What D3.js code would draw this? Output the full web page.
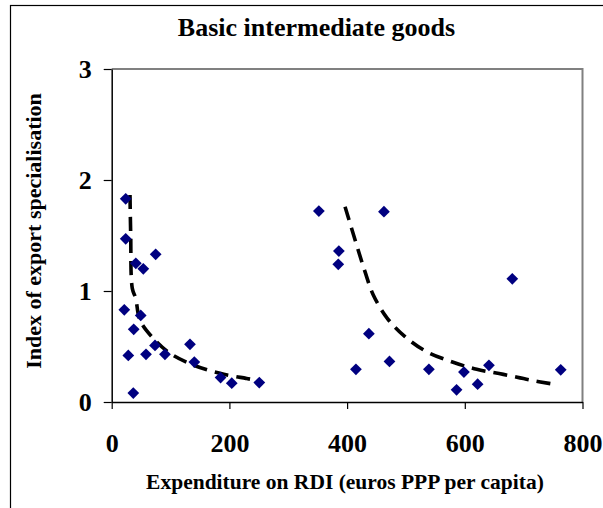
<!DOCTYPE html>
<html><head><meta charset="utf-8">
<script src="https://cdn.jsdelivr.net/npm/d3@7"></script>
<style>body{margin:0;background:#fff;}svg{display:block;}</style>
</head><body>
<svg id="c" width="603" height="508"></svg>
<script>
const title = "Basic intermediate goods";
const xTitle = "Expenditure on RDI (euros PPP per capita)";
const yTitle = "Index of export specialisation";
const xTicks = [0, 200, 400, 600, 800];
const yTicks = [0, 1, 2, 3];
// scatter points: RDI expenditure, export specialisation index
const rdi = [23.8, 23.8, 74.7, 41, 53.7, 21.4, 49.3, 37.4, 73.6, 133, 28.2, 58.3, 90.5, 140.4, 185, 204, 250.8, 36.7,
             352, 462.6, 386, 385, 680.7, 437, 415, 472, 539, 598.5, 641, 586, 621.8, 763];
const idx = [1.83, 1.47, 1.33, 1.25, 1.20, 0.83, 0.78, 0.655, 0.51, 0.52, 0.42, 0.43, 0.43, 0.36, 0.22, 0.17, 0.175, 0.08,
             1.72, 1.715, 1.36, 1.24, 1.11, 0.615, 0.295, 0.365, 0.295, 0.27, 0.33, 0.11, 0.16, 0.29];
// trend lines
const trend1X = [31.1, 32.3, 35, 40.8, 48, 68, 99, 138.7, 184, 228, 236];
const trend1Y = [1.865, 1.505, 1.024, 0.934, 0.739, 0.589, 0.439, 0.333, 0.258, 0.213, 0.205];
const trend2X = [396.5, 416.2, 430.4, 444.5, 468.3, 498.4, 535.2, 577.7, 620.2, 665.5, 710.8, 749.4];
const trend2Y = [1.759, 1.414, 1.174, 0.964, 0.754, 0.589, 0.453, 0.363, 0.294, 0.249, 0.198, 0.162];

const svg = d3.select("#c");
const font = "'Liberation Serif','Times New Roman',serif";
const L = 111.7, R = 582.5, T = 69, B = 402;
const x = d3.scaleLinear().domain([0, 800]).range([L, R]);
const y = d3.scaleLinear().domain([0, 3]).range([B, T]);

// outer chart border
svg.append("rect").attr("x", 10.5).attr("y", 5.5).attr("width", 700).attr("height", 600)
  .attr("fill", "none").attr("stroke", "#000").attr("stroke-width", 1.2);

// plot area border (gray top/right)
svg.append("path").attr("d", `M${L},${T}H${R}V${B}`).attr("fill", "none")
  .attr("stroke", "#808080").attr("stroke-width", 2);

const xAxis = svg.append("g").attr("transform", `translate(0,${B})`)
  .call(d3.axisBottom(x).tickValues(xTicks).tickSize(7).tickSizeOuter(0).tickPadding(4).tickFormat(d3.format("d")));
const yAxis = svg.append("g").attr("transform", `translate(${L},0)`)
  .call(d3.axisLeft(y).tickValues(yTicks).tickSize(8).tickSizeOuter(0).tickPadding(12).tickFormat(d3.format("d")));
[xAxis, yAxis].forEach(g => {
  g.select(".domain").attr("stroke", "#000").attr("stroke-width", 1.5);
  g.selectAll(".tick line").attr("stroke", "#000").attr("stroke-width", 1.2);
  g.selectAll("text").attr("font-family", font).attr("font-weight", "bold").attr("font-size", 26).attr("fill", "#000");
});
xAxis.selectAll("text").attr("dy", null).attr("y", 49.5);
yAxis.selectAll("text").attr("dy", null).attr("y", 8.5);

// trend lines
const line = d3.line().x(d => x(d[0])).y(d => y(d[1])).curve(d3.curveCatmullRom);
[[trend1X, trend1Y], [trend2X, trend2Y]].forEach(([xs, ys]) => {
  svg.append("path").datum(xs.map((v, i) => [v, ys[i]])).attr("d", line)
    .attr("fill", "none").attr("stroke", "#000").attr("stroke-width", 3.6)
    .attr("stroke-dasharray", "14,8");
});

// diamonds
const sym = d3.symbol().type(d3.symbolDiamond2).size(88);
svg.append("g").selectAll("path").data(rdi.map((v, i) => [v, idx[i]])).join("path")
  .attr("d", sym).attr("transform", d => `translate(${x(d[0])},${y(d[1])})`)
  .attr("fill", "#000080");

// titles
svg.append("text").attr("x", 316.5).attr("y", 36).attr("text-anchor", "middle")
  .attr("font-family", font).attr("font-weight", "bold").attr("font-size", 26).text(title);
svg.append("text").attr("x", 345).attr("y", 489).attr("text-anchor", "middle")
  .attr("font-family", font).attr("font-weight", "bold").attr("font-size", 21.5).text(xTitle);
svg.append("text").attr("transform", "translate(41,231) rotate(-90)").attr("text-anchor", "middle")
  .attr("font-family", font).attr("font-weight", "bold").attr("font-size", 22).text(yTitle);
</script>
</body></html>
